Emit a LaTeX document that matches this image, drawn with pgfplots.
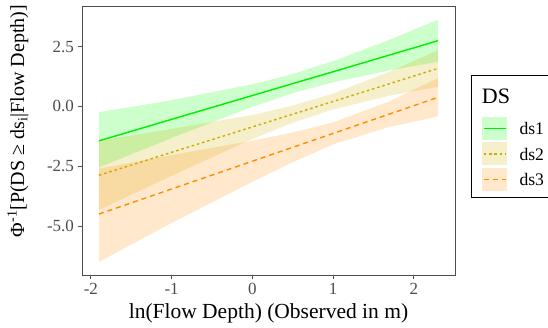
\documentclass[border=0pt]{standalone}
\usepackage{fontspec}
\setmainfont{Liberation Serif}
\usepackage{pgfplots}
\pgfplotsset{compat=1.18}
\definecolor{cA}{HTML}{00FF00}
\definecolor{cAl}{HTML}{00EE00}
\definecolor{cB}{HTML}{CDAD00}
\definecolor{cC}{HTML}{FF8C00}
\definecolor{axgray}{HTML}{4D4D4D}
\definecolor{ticktext}{HTML}{4D4D4D}
\begin{document}
\begin{tikzpicture}
\useasboundingbox (0pt,0pt) rectangle (548pt,328pt);
\begin{axis}[
  at={(82pt,53pt)}, anchor=south west,
  scale only axis, width=373pt, height=269pt,
  xmin=-2.11, xmax=2.51, ymin=-7.05, ymax=4.2,
  axis line style={draw=axgray, line width=0.8pt},
  tick align=outside, major tick length=4.5pt,
  tick style={axgray, line width=0.8pt},
  tick pos=left,
  xtick={-2,-1,0,1,2}, xticklabels={-2,-1,0,1,2},
  ytick={-5,-2.5,0,2.5}, yticklabels={-5.0,-2.5,0.0,2.5},
  /pgf/number format/assume math mode=true,
  ticklabel style={font=\fontsize{17}{20}\selectfont, text=ticktext},
  xlabel={ln(Flow Depth) (Observed in m)},
  xlabel style={at={(axis description cs:0.5,-0.161)}, anchor=base, font=\fontsize{21.5}{24}\selectfont},
  ylabel={Φ\textsuperscript{-1}[P(DS ≥ ds\textsubscript{i}|Flow Depth)]},
  ylabel style={at={(axis description cs:-0.155,0.572)}, anchor=base, font=\fontsize{20}{24}\selectfont},
]
% ds1 ribbon + line
\addplot[draw=none, fill=cA, fill opacity=0.2] coordinates {
(-1.9,-0.24) (-1,0.26) (0,0.925) (0.5,1.354) (1,1.89) (1.7,2.79) (2.3,3.63)
(2.3,1.87) (1.7,1.51) (1,1.01) (0.5,0.554) (0,-0.015) (-1,-1.32) (-1.9,-2.55)} -- cycle;
\addplot[cAl, line width=1.4pt] coordinates {(-1.9,-1.44) (-1,-0.54) (0,0.455) (0.5,0.954) (1,1.45) (1.7,2.15) (2.3,2.75)};
% ds2 ribbon + line
\addplot[draw=none, fill=cB, fill opacity=0.2] coordinates {
(-1.9,-1.43) (-1,-0.94) (0,-0.358) (0.5,0.034) (1,0.536) (1.7,1.451) (2.3,2.36)
(2.3,0.82) (1.7,0.451) (1,-0.124) (0.5,-0.686) (0,-1.358) (-1,-2.90) (-1.9,-4.33)} -- cycle;
\addplot[cB, line width=1.4pt, dash pattern=on 2.6pt off 2.8pt] coordinates {(-1.9,-2.88) (-1,-1.92) (0,-0.858) (0.5,-0.326) (1,0.206) (1.7,0.951) (2.3,1.59)};
% ds3 ribbon + line
\addplot[draw=none, fill=cC, fill opacity=0.2] coordinates {
(-1.9,-2.6) (-1,-2.034) (0,-1.432) (0.5,-1.091) (1,-0.67) (1.7,0.218) (2.3,1.18)
(2.3,-0.42) (1.7,-0.852) (1,-1.59) (0.5,-2.331) (0,-3.152) (-1,-4.874) (-1.9,-6.5)} -- cycle;
\addplot[cC, line width=1.4pt, dash pattern=on 5pt off 4pt] coordinates {(-1.9,-4.5) (-1,-3.454) (0,-2.292) (0.5,-1.711) (1,-1.13) (1.7,-0.317) (2.3,0.38)};
\end{axis}
% panel border (top and right)
\draw[axgray, line width=0.8pt] (82pt,322pt) -- (455pt,322pt) -- (455pt,53pt);
% legend
\draw[black, line width=0.8pt] (471.7pt,252.3pt) rectangle (570pt,131pt);
\node[anchor=base west, inner sep=0, font=\fontsize{22}{24}\selectfont] at (481.7pt,224.7pt) {DS};
\fill[cA!20] (481.7pt,188pt) rectangle (507.3pt,211pt);
\draw[cAl, line width=1.4pt] (483.5pt,199.5pt) -- (505.5pt,199.5pt);
\fill[cB!20] (481.7pt,162.5pt) rectangle (507.3pt,185.5pt);
\draw[cB, line width=1.2pt, dash pattern=on 2.6pt off 2.8pt] (483.5pt,174pt) -- (505.5pt,174pt);
\fill[cC!20] (481.7pt,137pt) rectangle (507.3pt,160pt);
\draw[cC, line width=1.2pt, dash pattern=on 5pt off 4pt] (483.5pt,148.5pt) -- (505.5pt,148.5pt);
\node[anchor=west, inner sep=0, font=\fontsize{17.6}{20}\selectfont] at (519.3pt,199.5pt) {ds1};
\node[anchor=west, inner sep=0, font=\fontsize{17.6}{20}\selectfont] at (519.3pt,174pt) {ds2};
\node[anchor=west, inner sep=0, font=\fontsize{17.6}{20}\selectfont] at (519.3pt,148.5pt) {ds3};
\end{tikzpicture}
\end{document}
